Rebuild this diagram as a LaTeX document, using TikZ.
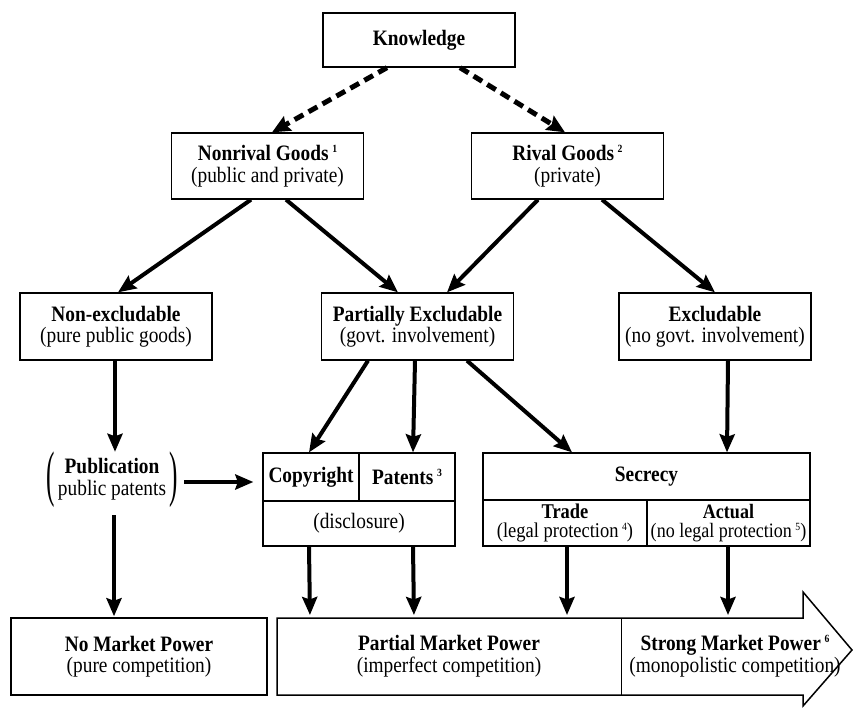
\documentclass[tikz,border=0pt]{standalone}
\usepackage{fontspec}
\setmainfont{Liberation Serif}[FakeStretch=0.88]
\usetikzlibrary{arrows.meta}
\newcommand\fnm[1]{\,\raisebox{0.75ex}{\fontsize{11}{11}\selectfont #1}}
\newcommand\bigpar[1]{\vcenter{\hbox{\scalebox{1.3}[2.8]{#1}}}}
\begin{document}
\begin{tikzpicture}[x=1pt,y=-1pt,
  font=\fontsize{22}{21.5}\selectfont,
  box/.style={draw, line width=1.3pt, align=center, inner sep=0pt, minimum width=192pt, minimum height=66pt},
  cell/.style={draw, line width=1.3pt, align=center, inner sep=0pt},
  arr/.style={line width=4pt, -{Stealth[length=18pt,width=15pt,inset=2.5pt]}},
  darr/.style={line width=5pt, dash pattern=on 10pt off 6pt, -{Stealth[length=18pt,width=16pt,inset=2.5pt]}},
]
\useasboundingbox[fill=white] (0,0) rectangle (854,707);

% tier 1
\node[box, minimum height=54pt] (know) at (419,40) {\textbf{Knowledge}};
% tier 2
\node[box] (nonrival) at (267.5,166) {\textbf{Nonrival Goods\fnm{1}}\\(public and private)};
\node[box] (rival) at (567.5,166) {\textbf{Rival Goods\fnm{2}}\\(private)};
% tier 3
\node[box, minimum height=67pt] (nonex) at (116,326.5) {\textbf{Non-excludable}\\(pure public goods)};
\node[box, minimum height=67pt] (partex) at (417.5,326.5) {\textbf{Partially Excludable}\\(govt. involvement)};
\node[box, minimum height=67pt] (excl) at (715,326.5) {\textbf{Excludable}\\(no govt. involvement)};
% tier 4
\node[minimum height=56pt, inner sep=0pt] (pub) at (112,480)
  {$\bigpar{(}\,\begin{tabular}{@{}c@{}}\textbf{Publication}\\public patents\end{tabular}\,\bigpar{)}$};
\node[cell, minimum width=96pt, minimum height=48pt] (copy) at (311,477) {\textbf{Copyright}};
\node[cell, minimum width=96pt, minimum height=48pt] (pat) at (407,477) {\textbf{Patents\fnm{3}}};
\node[cell, minimum width=192pt, minimum height=45pt] (disc) at (359,523.5) {(disclosure)};
\node[cell, minimum width=327pt, minimum height=47pt] (secr) at (646.5,476.5) {\textbf{Secrecy}};
\node[cell, minimum width=164pt, minimum height=46pt, font=\fontsize{21}{19}\selectfont] (trade) at (565,523)
  {\textbf{Trade}\\(legal protection\fnm{4})};
\node[cell, minimum width=163pt, minimum height=46pt, font=\fontsize{20.5}{19}\selectfont] (actual) at (728.5,523)
  {\textbf{Actual}\\(no legal protection\fnm{5})};

% bottom
\node[cell, line width=1.5pt, minimum width=256pt, minimum height=77pt] (nomkt) at (139,656.5)
  {\textbf{No Market Power}\\(pure competition)};
\draw[line width=1.5pt, line join=miter] (277,618) -- (803,618) -- (803,592) -- (852,650) -- (803,706) -- (803,695) -- (277,695) -- cycle;
\draw[line width=1pt] (621,618) -- (621,695);
\node[align=center] (partmkt) at (449,656) {\textbf{Partial Market Power}\\(imperfect competition)};
\node[align=center] (strongmkt) at (735,656) {\textbf{Strong Market Power\fnm{6}}\\(monopolistic competition)};
\coordinate (t1) at (310,618);
\coordinate (t2) at (414,618);
\coordinate (t3) at (567,618);
\coordinate (t4) at (728,618);

% connectors
\draw[darr] ([xshift=-32pt]know.south) -- ([xshift=4.5pt]nonrival.north);
\draw[darr] ([xshift=41pt]know.south) -- ([xshift=-2.5pt]rival.north);

\draw[arr] ([xshift=-16.5pt]nonrival.south) -- ([xshift=2pt]nonex.north);
\draw[arr] ([xshift=18.5pt]nonrival.south) -- ([xshift=-19.5pt]partex.north);
\draw[arr] ([xshift=-29.5pt]rival.south) -- ([xshift=29.5pt]partex.north);
\draw[arr] ([xshift=34.5pt]rival.south) -- (excl.north);

\draw[arr] ([xshift=-1pt]nonex.south) -- ([xshift=3pt]pub.north);
\draw[arr] ([xshift=-49.5pt]partex.south) -- ([xshift=-2pt]copy.north);
\draw[arr] ([xshift=-2.5pt]partex.south) -- ([xshift=6pt]pat.north);
\draw[arr] ([xshift=49.5pt]partex.south) -- ([xshift=-74.5pt]secr.north);
\draw[arr] ([xshift=13pt]excl.south) -- ([xshift=80.5pt]secr.north);

\draw[arr, shorten <=6pt, shorten >=9pt] ([yshift=-2pt]pub.east) -- ([yshift=-5pt]copy.west);
\draw[arr, shorten <=7pt, shorten >=1pt] ([xshift=2pt]pub.south) -- ([xshift=-25pt]nomkt.north);
\draw[arr, shorten >=3pt] ([xshift=-50pt]disc.south) -- (t1);
\draw[arr, shorten >=3pt] ([xshift=54pt]disc.south) -- (t2);
\draw[arr, shorten >=3pt] ([xshift=2pt]trade.south) -- (t3);
\draw[arr, shorten >=3pt] ([xshift=-0.5pt]actual.south) -- (t4);
\end{tikzpicture}
\end{document}
